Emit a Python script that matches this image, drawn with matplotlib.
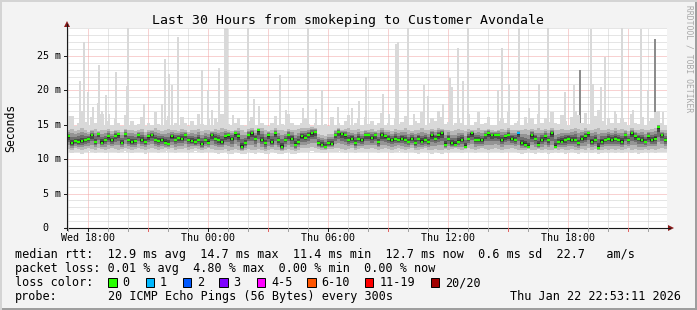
import numpy as np
import matplotlib
matplotlib.use("Agg")
import matplotlib.pyplot as plt
from matplotlib.patches import Rectangle, Polygon
from matplotlib.lines import Line2D

# ---------------- data ----------------
t_start = 16.93          # hours since Wed 00:00 (graph start)
span_h = 30.0
step_h = 1.0 / 6.0       # 10-minute consolidation steps

median_ms = [
    13.3, 12.3, 12.6, 12.5, 12.6, 12.8, 12.9, 13.5, 12.5, 13.7, 12.4, 12.8, 13.3, 12.8, 13.4,
    13.6, 12.4, 13.7, 12.8, 12.5, 12.6, 13.5, 12.8, 12.5, 13.3, 13.5, 12.8, 12.7, 12.8, 12.4,
    12.2, 13.3, 12.8, 13.1, 13.0, 13.5, 12.8, 12.7, 12.5, 12.8, 12.2, 12.8, 12.4, 13.5, 13.0,
    12.8, 12.5, 13.3, 13.5, 13.0, 13.75, 13.3, 11.8, 12.3, 13.5, 13.75, 13.0, 14.2, 12.8, 12.3,
    13.5, 12.5, 13.75, 12.8, 11.8, 12.8, 13.5, 13.0, 12.1, 12.5, 13.3, 13.1, 13.5, 13.75, 14.0,
    12.3, 12.1, 11.8, 12.3, 12.2, 13.5, 14.0, 13.7, 13.5, 12.8, 13.0, 12.3, 13.0, 12.8, 13.5,
    13.5, 13.1, 13.5, 12.45, 13.5, 13.3, 13.0, 12.8, 13.0, 12.8, 13.0, 12.8, 12.55, 13.0, 12.3,
    13.0, 12.55, 12.8, 12.55, 13.5, 13.0, 13.5, 13.75, 12.1, 13.0, 12.3, 12.1, 12.55, 12.8, 11.8,
    13.0, 13.75, 12.8, 12.8, 12.8, 13.5, 13.75, 13.5, 13.5, 13.5, 12.8, 13.3, 13.5, 13.0, 12.8,
    13.75, 12.3, 12.1, 11.8, 13.5, 13.0, 12.1, 12.8, 13.3, 12.8, 13.75, 11.8, 12.55, 12.55, 12.8,
    13.0, 12.8, 12.8, 12.3, 13.0, 13.3, 13.75, 12.55, 12.8, 11.6, 12.55, 12.8, 13.0, 12.8, 13.0,
    12.8, 12.55, 13.5, 12.8, 13.75, 13.3, 13.0, 12.8, 12.55, 13.3, 12.8, 13.0, 14.7, 13.5, 12.8,
]

smoke_min_ms = [
    11.0, 10.9, 11.1, 11.0, 10.8, 11.0, 11.2, 11.0, 10.9, 11.1, 11.0, 10.9, 11.0, 11.1, 11.0,
    10.9, 11.0, 11.2, 11.0, 10.9, 11.0, 11.1, 11.0, 10.8, 11.0, 11.1, 11.0, 10.9, 11.0, 11.2,
    11.0, 11.1, 10.9, 11.0, 11.0, 11.1, 10.9, 11.0, 11.2, 11.0, 10.9, 11.0, 11.1, 11.0, 10.9,
    10.8, 10.9, 11.0, 10.7, 10.8, 11.0, 10.9, 10.7, 10.8, 11.0, 10.9, 10.8, 11.0, 10.9, 10.7,
    10.8, 11.0, 10.9, 10.8, 10.7, 10.9, 11.0, 10.8, 10.7, 10.9, 11.0, 11.1, 11.0, 11.2, 11.1,
    11.0, 10.9, 10.9, 11.0, 11.0, 11.1, 11.2, 11.0, 10.9, 11.0, 11.1, 10.9, 11.0, 11.1, 11.0,
    11.0, 11.1, 11.0, 10.9, 11.0, 11.1, 11.0, 10.9, 11.0, 11.2, 11.0, 10.9, 11.0, 11.1, 10.9,
    10.8, 11.0, 11.1, 10.9, 10.8, 11.0, 10.9, 10.8, 11.0, 10.9, 11.0, 11.1, 11.0, 10.9, 11.0,
    11.1, 11.0, 10.9, 11.0, 11.1, 11.0, 10.9, 11.0, 11.1, 11.0, 10.9, 11.0, 11.0, 11.1, 11.0,
    10.9, 10.8, 10.9, 11.0, 10.9, 10.8, 11.0, 10.9, 11.0, 10.8, 10.9, 11.0, 10.9, 11.0, 10.8,
    10.9, 11.0, 10.9, 10.8, 11.0, 10.9, 11.1, 10.9, 11.0, 10.8, 10.9, 11.0, 10.9, 11.0, 10.9,
    11.0, 10.9, 11.0, 11.1, 10.9, 11.0, 10.8, 10.9, 11.0, 10.9, 11.0, 10.9, 11.0, 11.1, 11.0,
]

smoke_max_ms = [
    15.0, 16.3, 14.8, 15.2, 17.0, 15.4, 14.9, 16.1, 15.3, 14.8, 16.6, 15.0, 15.5, 14.9, 16.0,
    15.2, 14.8, 16.4, 15.0, 15.6, 14.9, 15.1, 16.2, 14.8, 15.3, 15.0, 16.8, 15.1, 14.9, 15.7,
    16.3, 15.0, 15.2, 14.9, 16.1, 15.3, 14.8, 15.6, 15.0, 16.5, 15.1, 14.9, 15.8, 15.0, 16.0,
    15.4, 16.6, 15.9, 15.1, 14.9, 15.3, 16.0, 15.0, 14.8, 15.5, 16.2, 15.0, 14.9, 15.3, 15.0,
    14.8, 15.2, 16.3, 15.0, 15.1, 14.9, 16.6, 15.2, 15.0, 14.9, 15.3, 16.0, 15.1, 14.8, 15.2,
    15.0, 14.9, 15.1, 14.8, 16.1, 15.0, 15.3, 14.9, 15.5, 16.4, 15.0, 15.2, 16.0, 14.9, 16.2,
    15.1, 15.6, 14.9, 15.3, 16.7, 15.0, 15.2, 14.9, 16.0, 15.1, 15.4, 16.3, 15.0, 14.9, 15.6,
    15.2, 16.8, 15.0, 15.3, 16.0, 15.5, 17.0, 16.2, 15.1, 15.4, 14.9, 15.3, 16.0, 15.2, 14.9,
    16.5, 15.0, 15.4, 16.9, 15.1, 15.3, 16.2, 15.0, 14.9, 15.6, 16.0, 15.2, 16.8, 15.0, 15.3,
    15.6, 15.0, 16.2, 15.3, 16.0, 15.1, 16.6, 15.2, 16.0, 15.4, 16.8, 15.3, 15.1, 16.4, 15.6,
    15.0, 16.2, 17.0, 16.4, 15.3, 16.7, 15.1, 15.5, 16.3, 17.2, 15.6, 15.0, 16.0, 15.3, 16.5,
    15.2, 16.0, 15.4, 14.9, 16.6, 15.3, 15.1, 16.2, 15.0, 15.5, 16.0, 16.9, 17.0, 15.2, 15.0,
]

smoke_p10_ms = [
    11.5, 11.4, 11.6, 11.5, 11.4, 11.5, 11.6, 11.5, 11.4, 11.6, 11.5, 11.4, 11.5, 11.6, 11.5,
    11.4, 11.5, 11.6, 11.5, 11.4, 11.5, 11.6, 11.5, 11.4, 11.5, 11.6, 11.5, 11.4, 11.5, 11.6,
    11.5, 11.6, 11.4, 11.5, 11.5, 11.6, 11.4, 11.5, 11.6, 11.5, 11.4, 11.5, 11.6, 11.5, 11.4,
    11.3, 11.4, 11.5, 11.2, 11.3, 11.5, 11.4, 11.2, 11.3, 11.5, 11.4, 11.3, 11.5, 11.4, 11.2,
    11.3, 11.5, 11.4, 11.3, 11.2, 11.4, 11.5, 11.3, 11.2, 11.4, 11.6, 11.7, 11.6, 11.8, 11.7,
    11.5, 11.4, 11.4, 11.5, 11.5, 11.6, 11.7, 11.5, 11.4, 11.5, 11.6, 11.4, 11.5, 11.6, 11.5,
    11.5, 11.6, 11.5, 11.4, 11.5, 11.6, 11.5, 11.4, 11.5, 11.7, 11.5, 11.4, 11.5, 11.6, 11.4,
    11.3, 11.5, 11.6, 11.4, 11.3, 11.5, 11.4, 11.3, 11.5, 11.4, 11.5, 11.6, 11.5, 11.4, 11.5,
    11.6, 11.5, 11.4, 11.5, 11.6, 11.5, 11.4, 11.5, 11.6, 11.5, 11.4, 11.5, 11.5, 11.6, 11.5,
    11.4, 11.3, 11.4, 11.5, 11.4, 11.3, 11.5, 11.4, 11.5, 11.3, 11.4, 11.5, 11.4, 11.5, 11.3,
    11.4, 11.5, 11.4, 11.3, 11.5, 11.4, 11.6, 11.4, 11.5, 11.3, 11.4, 11.5, 11.4, 11.5, 11.4,
    11.5, 11.4, 11.5, 11.6, 11.4, 11.5, 11.3, 11.4, 11.5, 11.4, 11.5, 11.4, 11.5, 11.6, 11.5,
]

smoke_p90_ms = [
    14.2, 14.4, 14.1, 14.3, 14.5, 14.2, 14.0, 14.3, 14.4, 14.1, 14.3, 14.2, 14.4, 14.1, 14.3,
    14.2, 14.0, 14.4, 14.2, 14.3, 14.1, 14.2, 14.4, 14.0, 14.2, 14.3, 14.5, 14.2, 14.1, 14.3,
    14.4, 14.2, 14.3, 14.1, 14.4, 14.2, 14.0, 14.3, 14.2, 14.4, 14.1, 14.2, 14.3, 14.1, 14.4,
    14.3, 14.5, 14.4, 14.2, 14.1, 14.3, 14.5, 14.2, 14.0, 14.4, 14.5, 14.2, 14.5, 14.6, 14.2,
    14.1, 14.3, 14.5, 14.2, 14.3, 14.1, 14.4, 14.3, 14.2, 14.4, 14.5, 14.6, 14.5, 14.7, 14.6,
    13.6, 13.5, 13.4, 13.6, 13.7, 14.3, 14.5, 14.3, 14.4, 14.5, 14.2, 14.3, 14.4, 14.1, 14.3,
    14.2, 14.4, 14.1, 14.3, 14.5, 14.2, 14.3, 14.1, 14.4, 14.2, 14.3, 14.5, 14.2, 14.1, 14.3,
    14.2, 14.5, 14.3, 14.2, 14.4, 14.3, 14.5, 14.4, 14.2, 14.3, 14.1, 14.2, 14.4, 14.3, 14.1,
    14.4, 14.2, 14.3, 14.5, 14.2, 14.3, 14.4, 14.2, 14.1, 14.3, 14.4, 14.2, 14.5, 14.2, 14.3,
    14.3, 14.2, 14.4, 14.3, 14.4, 14.2, 14.5, 14.3, 14.4, 14.2, 14.5, 14.3, 14.2, 14.4, 14.3,
    14.2, 14.4, 14.6, 14.4, 14.3, 14.5, 14.2, 14.3, 14.4, 14.6, 14.3, 14.2, 14.4, 14.3, 14.5,
    14.3, 14.4, 14.3, 14.1, 14.5, 14.3, 14.2, 14.4, 14.2, 14.3, 14.4, 14.6, 15.0, 14.2, 14.2,
]

# individual high pings (outliers above the main smoke band)
spike_hours = [
    17.03, 17.58, 17.78, 17.98, 18.23, 18.48, 18.53, 18.68, 18.88, 19.03, 19.38, 19.93, 19.98,
    20.78, 21.68, 21.83, 22.03, 22.18, 22.48, 23.68, 23.98, 24.18, 24.53, 24.83, 24.93, 25.23,
    25.98, 26.28, 26.53, 27.58, 27.88, 28.73, 28.98, 29.38, 29.68, 30.48, 31.18, 31.53, 31.88,
    32.73, 33.03, 33.38, 33.48, 33.98, 34.28, 34.78, 34.98, 35.73, 36.08, 36.18, 36.48, 36.73,
    36.98, 37.48, 38.48, 38.68, 39.03, 39.53, 40.03, 40.53, 40.98, 41.83, 42.28, 43.13, 43.23,
    43.63, 43.83, 44.33, 44.68, 45.23, 45.63, 45.98, 46.73,
]
spike_ms = [
    16.3, 21.3, 27.0, 19.8, 17.6, 18.2, 23.7, 17.0, 19.3, 16.5, 22.7, 20.7, 29.5,
    18.0, 18.0, 24.6, 22.4, 20.8, 27.7, 22.9, 20.0, 17.1, 23.2, 29.5, 29.5, 16.4,
    29.5, 18.8, 17.8, 22.3, 17.1, 17.4, 29.5, 17.3, 20.0, 17.6, 17.4, 18.4, 21.9,
    19.5, 16.6, 26.7, 27.0, 29.5, 16.5, 20.8, 19.2, 18.0, 21.8, 20.5, 26.2, 21.4,
    29.5, 16.4, 20.0, 26.1, 21.0, 29.5, 17.4, 21.0, 29.5, 19.8, 20.8, 28.9, 21.0,
    20.5, 24.8, 17.0, 29.5, 17.1, 28.9, 20.0, 16.8,
]
# steps where several pings were high (darker smoke column)
dense_spike_hours = [42.58, 46.33]
dense_spike_ms = [22.9, 27.4]

# packet loss (sparse): step index -> lost pings out of 20
loss_steps = [135]
loss_counts = [1]

y_ticks = [0, 5, 10, 15, 20, 25]
y_labels = ["0", "5 m", "10 m", "15 m", "20 m", "25 m"]
x_label_hours = [18, 24, 30, 36, 42]
x_labels = ["Wed 18:00", "Thu 00:00", "Thu 06:00", "Thu 12:00", "Thu 18:00"]

title = "Last 30 Hours from smokeping to Customer Avondale"
legend_rtt = "median rtt:  12.9 ms avg  14.7 ms max  11.4 ms min  12.7 ms now  0.6 ms sd  22.7   am/s"
legend_loss = "packet loss: 0.01 % avg  4.80 % max  0.00 % min  0.00 % now"
loss_color_labels = ["0", "1", "2", "3", "4-5", "6-10", "11-19", "20/20"]
loss_color_values = ["#26ff00", "#00b8ff", "#0059ff", "#7e00ff", "#ff00ff", "#ff5500", "#ff0000", "#a10000"]
probe_text = "20 ICMP Echo Pings (56 Bytes) every 300s"
stamp_text = "Thu Jan 22 22:53:11 2026"

# ---------------- figure ----------------
W, H = 697, 310
L, T, R, B = 67, 28, 667, 228
y_max = 29.07
MONO = "DejaVu Sans Mono"

fig = plt.figure(figsize=(W / 100, H / 100), dpi=100)
fig.patch.set_facecolor("#f3f3f3")

def fx(x):
    return x / W

def fy(y):
    return 1 - y / H

ax = fig.add_axes([fx(L), fy(B), (R - L) / W, (B - T) / H])
ax.set_facecolor("white")
ax.set_xlim(t_start, t_start + span_h)
ax.set_ylim(0, y_max)
for s in ax.spines.values():
    s.set_visible(False)
ax.set_xticks([])
ax.set_yticks([])

# grid
minor_col = "#cdcdcd"
major_col = "#f2a4a4"
dot = (0, (1, 1))
hours_all = np.arange(np.ceil(t_start), t_start + span_h, 1.0)
for h in hours_all:
    col = major_col if int(round(h)) % 3 == 0 else minor_col
    ax.axvline(h, color=col, lw=0.72, ls=dot, zorder=0.5)
for v in np.arange(1, y_max, 1.0):
    col = major_col if int(round(v)) % 5 == 0 else minor_col
    ax.axhline(v, color=col, lw=0.72, ls=dot, zorder=0.5)

# smoke
n = len(median_ms)
edges = t_start + np.arange(n + 1) * step_h
med = np.array(median_ms)
lo = np.array(smoke_min_ms)
hi = np.array(smoke_max_ms)
p10 = np.array(smoke_p10_ms)
p90 = np.array(smoke_p90_ms)

light = "#d9d9d9"
ax.bar(spike_hours, np.array(spike_ms) - 11.0, bottom=11.0, width=1 / 12,
       color=light, lw=0, zorder=1)
ax.bar(dense_spike_hours, np.array(dense_spike_ms) - 11.0, bottom=11.0, width=1 / 12,
       color="#8c8c8c", lw=0, zorder=1.1)

ax.stairs(hi, edges, baseline=lo, fill=True, color=light, lw=0, zorder=2)
shades = ["#b8b8b8", "#949494", "#6e6e6e", "#4a4a4a", "#262626"]
fracs = [0.0, 0.3, 0.55, 0.75, 0.9]
for c, f in zip(shades, fracs):
    top = p90 - f * (p90 - med)
    bot = p10 + f * (med - p10)
    ax.stairs(top, edges, baseline=bot, fill=True, color=c, lw=0, zorder=2.1)

# median marks coloured by loss
colors = [loss_color_values[0]] * n
for s_idx, cnt in zip(loss_steps, loss_counts):
    colors[s_idx] = loss_color_values[1] if cnt == 1 else loss_color_values[2]
ax.hlines(med, edges[:-1] + 0.15 * step_h, edges[1:] - 0.15 * step_h,
          colors=colors, lw=1.6, zorder=3)

# axes lines and arrows (figure coords)
axis_col = "#1a1a1a"
arrow_col = "#8b1a1a"
fig.add_artist(Line2D([fx(L), fx(L)], [fy(B + 2), fy(T - 4)], color=axis_col, lw=0.8))
fig.add_artist(Line2D([fx(L - 2), fx(R + 3)], [fy(B), fy(B)], color=axis_col, lw=0.8))
fig.add_artist(Polygon([[fx(L - 3), fy(T - 1)], [fx(L + 3), fy(T - 1)], [fx(L), fy(T - 7)]],
                       closed=True, color=arrow_col, lw=0))
fig.add_artist(Polygon([[fx(R + 1), fy(B - 3)], [fx(R + 1), fy(B + 3)], [fx(R + 7), fy(B)]],
                       closed=True, color=arrow_col, lw=0))

# tick marks
for h in hours_all:
    xp = L + (h - t_start) * (R - L) / span_h
    hi_ = int(round(h))
    if hi_ % 6 == 0:
        col = axis_col
    elif hi_ % 3 == 0:
        col = "#e06060"
    else:
        col = "#a0a0a0"
    fig.add_artist(Line2D([fx(xp), fx(xp)], [fy(B), fy(B + 3)], color=col, lw=0.7))
for v in y_ticks:
    yp = B - v * (B - T) / y_max
    fig.add_artist(Line2D([fx(L - 3), fx(L)], [fy(yp), fy(yp)], color=axis_col, lw=0.7))

# tick labels
for h, lab in zip(x_label_hours, x_labels):
    xp = L + (h - t_start) * (R - L) / span_h
    fig.text(fx(xp), fy(241), lab, ha="center", va="baseline", family=MONO, fontsize=7.2)
for v, lab in zip(y_ticks, y_labels):
    yp = B - v * (B - T) / y_max
    xr = 61 if v != 0 else 48
    fig.text(fx(xr), fy(yp), lab, ha="right", va="center", family=MONO, fontsize=7.2)

# title, axis label, watermark
fig.text(fx(348), fy(24), title, ha="center", va="baseline", family=MONO, fontsize=9.5)
fig.text(fx(10.5), fy(128), "Seconds", ha="center", va="center", rotation=90,
         family=MONO, fontsize=8.3)
fig.text(fx(689), fy(5), "RRDTOOL / TOBI OETIKER", ha="center", va="top", rotation=270,
         family=MONO, fontsize=5.8, color="#a8a8a8")

# legend rows
fs = 8.5
x0 = 15.2
fig.text(fx(x0), fy(258), legend_rtt, ha="left", va="baseline", family=MONO, fontsize=fs)
fig.text(fx(x0), fy(272), legend_loss, ha="left", va="baseline", family=MONO, fontsize=fs)
fig.text(fx(x0), fy(286), "loss color:", ha="left", va="baseline", family=MONO, fontsize=fs)
box_x = [108.3, 145.7, 182.7, 219.3, 256.7, 307.3, 365.0, 430.7]
for bx, lab, c in zip(box_x, loss_color_labels, loss_color_values):
    fig.add_artist(Rectangle((fx(bx), fy(287)), 8.4 / W, 9 / H, facecolor=c,
                             edgecolor="black", lw=0.7))
    fig.text(fx(bx + 14.3), fy(286), lab, ha="left", va="baseline", family=MONO, fontsize=fs)
fig.text(fx(x0), fy(300), "probe:", ha="left", va="baseline", family=MONO, fontsize=fs)
fig.text(fx(x0 + 13 * 7.107), fy(300), probe_text, ha="left", va="baseline", family=MONO, fontsize=fs)
fig.text(fx(681), fy(300), stamp_text, ha="right", va="baseline", family=MONO, fontsize=fs)

# canvas frame shading
fig.add_artist(Rectangle((0, 0), 1, 2 / H, facecolor="#9e9e9e", lw=0))
fig.add_artist(Rectangle((1 - 2 / W, 0), 2 / W, 1, facecolor="#9e9e9e", lw=0))
fig.add_artist(Rectangle((0, 1 - 2 / H), 1, 2 / H, facecolor="#d4d4d4", lw=0))
fig.add_artist(Rectangle((0, 0), 2 / W, 1, facecolor="#d4d4d4", lw=0))

fig.savefig("out.png", dpi=100, facecolor=fig.get_facecolor())
